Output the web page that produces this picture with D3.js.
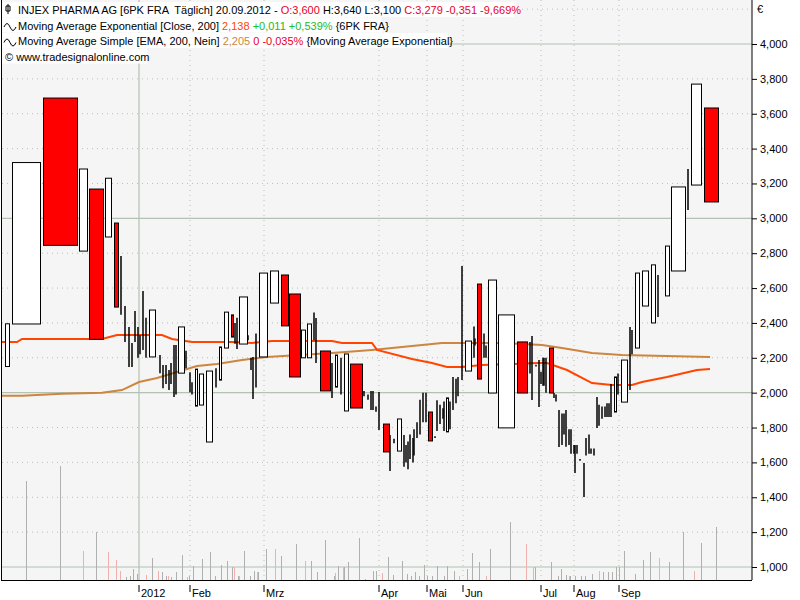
<!DOCTYPE html>
<meta charset="utf-8">
<style>
body { margin: 0; background: #fff; }
text { font-family: "Liberation Sans", Arial, sans-serif; white-space: pre; }
.grid { stroke: #b3c2b3; stroke-dasharray: 1,4; }
.gridsolid { stroke: #b3c2b3; stroke-width: 1.2; }
.thin { stroke: #000; stroke-width: 1.5; }
</style>
<body>
<svg id="chart" width="800" height="600"></svg>
<script src="https://cdnjs.cloudflare.com/ajax/libs/d3/7.8.5/d3.min.js"></script>
<script>
// candles: [start, volume width, open, close]
var candles = [
  [3,4,2150,2395],[10,28,2394,3320],[41,34,3690,2845],[77,8,2812,3283],[87,14,3168,2306],
  [103,6,2893,3230],[112,4,2973,2491],[147,6,2205,2474],[176,6,2112,2377],[193,2,1923,2135],
  [197,4,1929,2107],[204,6,1717,2124],[217,2,2072,2262],[222,4,2256,2462],[229,2,2446,2319],
  [237,8,2279,2549],[257,8,2205,2686],[268,8,2514,2698],[279,7,2675,2383],[287,11,2566,2090],
  [299,4,2200,2359],[305,4,2200,2394],[318,10,2239,2010],[333,2,2032,2216],[342,4,1895,2222],
  [348,12,2164,1912],[381,6,1820,1660],[395,4,1665,1849],[426,4,1889,1723],[444,2,1775,1970],
  [463,6,2124,2296],[475,4,2623,2078],[486,8,1998,2646],[496,16,1798,2446],[515,10,2291,1998],
  [547,4,2256,1998],[612,2,1889,2090],[619,6,1946,2187],[633,4,2256,2686],[640,6,2497,2698],
  [649,4,2400,2733],[663,4,2555,2841],[669,14,2698,3180],[689,10,3191,3770],[702,14,3633,3094]
];
// low-volume days: [position, high, low]
var thinBars = [
  [119,2784,2447],[123,2497,2290],[127,2377,2147],[130,2285,2147],[133,2468,2290],[136,2377,2200],
  [138,2330,2220],[141,2583,2245],[144,2430,2200],[158,2216,2112],[161,2158,2026],[164,2158,2050],
  [167,2130,2015],[169,2170,2050],[172,2273,1975],[174,2273,1990],[184,2240,2140],[188,2117,2003],
  [190,2060,1990],[214,2140,2030],[233,2400,2280],[235,2430,2250],[246,2330,2300],[249,2200,2130],
  [251,2205,1964],[254,2340,2030],[312,2460,2300],[314,2428,2170],[330,2170,1970],[339,2200,1990],
  [362,2010,1980],[366,1990,1960],[369,2010,1900],[371,2010,1900],[374,1920,1890],[377,2004,1786],
  [388,1757,1551],[392,1735,1710],[402,1757,1575],[404,1700,1600],[406,1720,1560],[408,1760,1620],
  [411,1740,1600],[412,1790,1640],[415,1830,1740],[418,1960,1760],[421,2000,1830],[424,2000,1830],
  [433,1750,1740],[435,1957,1780],[438,1930,1820],[441,1910,1850],[442,1950,1780],[448,1950,1790],
  [451,2090,1900],[454,2080,1940],[456,2090,1980],[460,2727,2073],[472,2380,2200],[473,2310,2270],
  [482,2340,2200],[484,2270,2200],[528,2290,2110],[530,2325,1958],[534,2160,2150],[537,2187,1918],
  [539,2120,2050],[541,2200,2040],[542,2200,2040],[544,2200,2000],[552,1998,1970],[554,1990,1950],
  [557,1900,1688],[560,1880,1700],[562,1880,1760],[564,1900,1690],[567,1790,1700],[569,1790,1650],
  [572,1700,1650],[573,1700,1539],[575,1700,1650],[578,1620,1610],[582,1597,1402],[584,1740,1640],
  [587,1760,1650],[589,1680,1650],[592,1680,1640],[595,1975,1797],[597,1930,1810],[600,1920,1850],
  [603,1920,1860],[605,1940,1860],[607,1940,1860],[609,2050,1860],[616,2110,1990],[628,2377,2015],
  [630,2360,2220],[656,2675,2434],[686,3283,3048]
];
// moving averages: positions and values
var emaPos = [0,15,20,60,100,115,160,170,190,230,250,270,330,340,370,375,410,430,445,460,480,535,545,565,590,610,630,640,665,695,708];
var emaVal = [2290,2290,2308,2308,2308,2331,2331,2308,2290,2290,2285,2296,2296,2285,2285,2245,2193,2170,2147,2147,2158,2170,2170,2130,2055,2044,2044,2061,2090,2130,2136];
var smaPos = [0,20,60,100,120,137,155,175,195,215,240,265,330,370,410,440,500,540,560,590,620,708];
var smaVal = [1983,1983,1994,2000,2015,2061,2084,2119,2153,2165,2187,2205,2227,2245,2268,2285,2285,2274,2256,2227,2216,2205];
// volume: [position, amount]
var volUp = [[24,99],[58,114],[94,48],[118,1],[124,3],[128,4],[131,11],[135,6],[144,3],[150,22],[156,6],[160,8],[164,4],[169,3],[174,8],[180,25],[187,4],[191,14],[200,21],[208,28],[213,4],[219,15],[225,19],[230,13],[236,4],[242,29],[248,4],[252,9],[256,8],[264,31],[279,24],[294,36],[309,19],[315,8],[323,40],[332,4],[336,14],[342,13],[346,18],[357,42],[363,1],[371,9],[374,9],[386,23],[391,5],[400,19],[405,6],[409,4],[413,8],[417,4],[422,15],[425,4],[430,4],[435,14],[442,4],[445,14],[452,9],[457,4],[465,11],[470,27],[477,18],[488,31],[508,58],[533,13],[549,18],[556,4],[559,11],[564,5],[568,4],[573,4],[579,4],[583,4],[590,6],[601,8],[606,8],[610,8],[614,13],[617,13],[622,29],[633,6],[641,20],[648,28],[667,18],[681,48],[699,37],[714,53]];
var volDown = [[81,29],[106,28],[114,20],[118,9],[144,5],[156,9],[166,4],[185,3],[232,13],[237,4],[255,8],[273,31],[303,19],[333,7],[341,13],[380,7],[457,4],[484,4],[524,36],[531,13],[567,4],[597,9],[657,22],[692,9]];
var yTicks = [1000,1200,1400,1600,1800,2000,2200,2400,2600,2800,3000,3200,3400,3600,3800,4000];
var monthPos = [137,188,262,377,425,461,539,572,617];
var monthLabels = ["2012","Feb","Mrz","Apr","Mai","Jun","Jul","Aug","Sep"];

var svg = d3.select("#chart");
var plotR = 752, plotB = 580;
var x = d3.scaleLinear().domain([0, 750]).range([2, 752]);
var y = d3.scaleLinear().domain([1000, 4000]).range([567, 44]);
var v = d3.scaleLinear().domain([0, 120]).range([plotB, plotB - 120]);

svg.append("rect").attr("x", 2).attr("y", 0).attr("width", plotR - 2).attr("height", plotB).attr("fill", "#f5f5f5");

// grid
svg.selectAll(".hg").data(yTicks.concat([4200])).enter().append("line")
  .attr("class", d => d % 1000 === 0 ? "gridsolid" : "grid")
  .attr("x1", 2).attr("x2", plotR).attr("y1", d => y(d)).attr("y2", d => y(d));
svg.selectAll(".vg").data(monthPos).enter().append("line")
  .attr("class", (d, i) => i === 0 ? "gridsolid" : "grid")
  .attr("x1", d => x(d)).attr("x2", d => x(d)).attr("y1", 0).attr("y2", plotB);

// volume
svg.selectAll(".vu").data(volUp).enter().append("line")
  .attr("x1", d => x(d[0]) + 0.5).attr("x2", d => x(d[0]) + 0.5)
  .attr("y1", plotB).attr("y2", d => v(d[1])).attr("stroke", "#b0b0b0");
svg.selectAll(".vd").data(volDown).enter().append("line")
  .attr("x1", d => x(d[0]) + 0.5).attr("x2", d => x(d[0]) + 0.5)
  .attr("y1", plotB).attr("y2", d => v(d[1])).attr("stroke", "#f0b0b0");

// moving averages
var line = d3.line().x(d => x(d[0])).y(d => y(d[1]));
svg.append("path").datum(d3.zip(smaPos, smaVal)).attr("d", line)
  .attr("fill", "none").attr("stroke", "#cd853f").attr("stroke-width", 2);
svg.append("path").datum(d3.zip(emaPos, emaVal)).attr("d", line)
  .attr("fill", "none").attr("stroke", "#ff4500").attr("stroke-width", 2);

// thin bars
svg.selectAll(".thin").data(thinBars).enter().append("line").attr("class", "thin")
  .attr("x1", d => x(d[0])).attr("x2", d => x(d[0])).attr("y1", d => y(d[1])).attr("y2", d => y(d[2]));

// candle bodies
svg.selectAll(".c").data(candles).enter().append("rect")
  .attr("x", d => x(d[0]) + 0.5)
  .attr("width", d => x(d[0] + d[1]) - x(d[0]))
  .attr("y", d => y(Math.max(d[2], d[3])))
  .attr("height", d => Math.abs(y(d[2]) - y(d[3])))
  .attr("fill", d => d[3] >= d[2] ? "#fff" : "#ff0000")
  .attr("stroke", "#000").attr("stroke-width", 1);

// frame
svg.append("line").attr("x1", 1.5).attr("x2", 1.5).attr("y1", 0).attr("y2", plotB).attr("stroke", "#000");
svg.append("line").attr("x1", plotR).attr("x2", plotR).attr("y1", 0).attr("y2", plotB).attr("stroke", "#000");
svg.append("line").attr("x1", 1).attr("x2", plotR).attr("y1", plotB + 0.5).attr("y2", plotB + 0.5).attr("stroke", "#000");

// right axis
var ya = svg.append("g").attr("transform", "translate(" + plotR + ",0)")
  .call(d3.axisRight(y).tickValues(yTicks).tickSize(4).tickFormat(d3.format(",")));
ya.select(".domain").remove();
ya.selectAll("text").attr("font-size", 11).attr("x", 8).attr("fill", "#000");
ya.selectAll("line").attr("x2", 5);
svg.append("text").attr("x", 757).attr("y", 13).attr("font-size", 11).text("€");

// month axis
svg.selectAll(".mt").data(monthPos).enter().append("line")
  .attr("x1", d => x(d)).attr("x2", d => x(d)).attr("y1", plotB + 5).attr("y2", plotB + 12).attr("stroke", "#000");
svg.selectAll(".ml").data(monthLabels).enter().append("text")
  .attr("x", (d, i) => x(monthPos[i]) + 2).attr("y", 597).attr("font-size", 11).text(d => d);

// legend
var leg = [
  [["INJEX PHARMA AG [6PK FRA  Täglich] 20.09.2012 - ", "#000"], ["O:3,600 ", "#e8002a"], ["H:3,640 L:3,100 ", "#000"], ["C:3,279 -0,351 -9,669%", "#e8002a"]],
  [["Moving Average Exponential [Close, 200] ", "#000"], ["2,138 ", "#ff4500"], ["+0,011 +0,539% ", "#22bb22"], ["{6PK FRA}", "#000"]],
  [["Moving Average Simple [EMA, 200, Nein] ", "#000"], ["2,205 ", "#cd853f"], ["0 -0,035% ", "#e8002a"], ["{Moving Average Exponential}", "#000"]],
  [["© www.tradesignalonline.com", "#000"]]
];
var legW = [512, 380, 446, 145];
leg.forEach(function(parts, i) {
  svg.append("rect").attr("x", 2).attr("y", 2 + i * 15.5).attr("width", legW[i]).attr("height", 15).attr("fill", "#fff");
  var t = svg.append("text").attr("x", i === 3 ? 5 : 18).attr("y", 14 + i * 15.5).attr("font-size", 11);
  parts.forEach(p => t.append("tspan").attr("fill", p[1]).text(p[0]));
});
// legend icons
svg.append("path").attr("d", "M8,4 V14 M6,6 H10 V11 H6 Z").attr("fill", "none").attr("stroke", "#000");
[0, 1].forEach(function(i) {
  svg.append("path").attr("d", "M4," + (27 + i * 15.5) + " q3,-7 6,0 t6,0").attr("fill", "none").attr("stroke", "#000");
});
</script>
</body>
